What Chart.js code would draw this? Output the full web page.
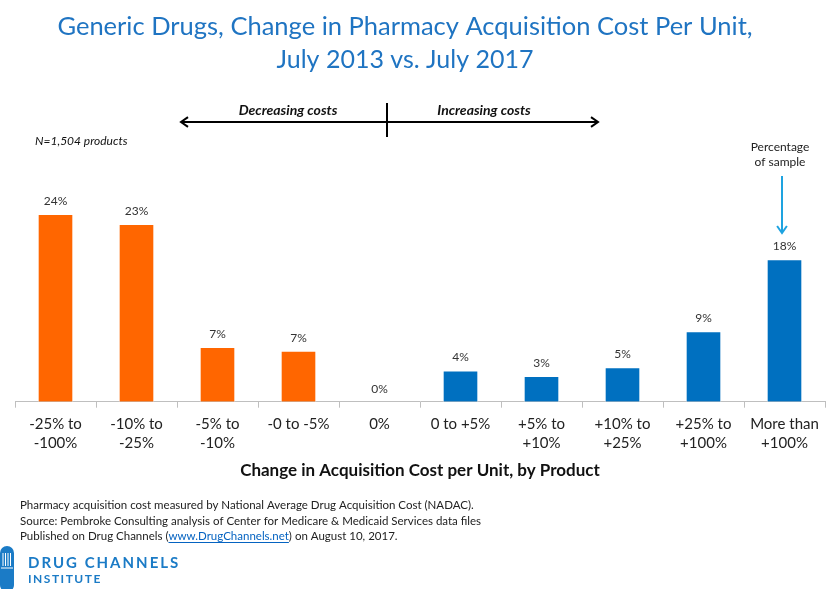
<!DOCTYPE html>
<html>
<head>
<meta charset="utf-8">
<script src="https://cdn.jsdelivr.net/npm/chart.js@4.4.1/dist/chart.umd.min.js"></script>
<style>
  html, body { margin: 0; background: #fff; }
  #wrap { width: 840px; height: 589px; }
</style>
</head>
<body>
<div id="wrap"><canvas id="chart"></canvas></div>
<script>
// --- data ---
const categories = [
  ["-25% to", "-100%"], ["-10% to", "-25%"], ["-5% to", "-10%"], ["-0 to -5%"], ["0%"],
  ["0 to +5%"], ["+5% to", "+10%"], ["+10% to", "+25%"], ["+25% to", "+100%"], ["More than", "+100%"]
];
const shares = [24.0, 22.7, 7.0, 6.5, 0, 4.0, 3.3, 4.4, 9.0, 18.2];
const shareLabels = ["24%", "23%", "7%", "7%", "0%", "4%", "3%", "5%", "9%", "18%"];
const decreasingCount = 5; // first five categories are cost decreases

const titleLines = ["Generic Drugs, Change in Pharmacy Acquisition Cost Per Unit,", "July 2013 vs. July 2017"];
const footerLines = [
  "Pharmacy acquisition cost measured by National Average Drug Acquisition Cost (NADAC).",
  "Source: Pembroke Consulting analysis of Center for Medicare & Medicaid Services data files"
];

const FONT = "Lato, 'Open Sans', sans-serif";
const ORANGE = "#ff6600";
const BLUE = "#0070c0";
const TITLE_BLUE = "#1f74c2";

function arrowHead(ctx, x, y, dx, dy, size) {
  // dx,dy: unit direction of the arrow tip
  const px = -dy, py = dx;
  ctx.beginPath();
  ctx.moveTo(x - dx * size + px * size * 0.7, y - dy * size + py * size * 0.7);
  ctx.lineTo(x, y);
  ctx.lineTo(x - dx * size - px * size * 0.7, y - dy * size - py * size * 0.7);
  ctx.stroke();
}

// labels above bars + page annotations
const decorations = {
  id: "decorations",
  afterDatasetsDraw(chart) {
    const ctx = chart.ctx;
    const meta = chart.getDatasetMeta(0);
    ctx.save();
    ctx.fillStyle = "#333";
    ctx.font = "12px " + FONT;
    ctx.textAlign = "center";
    ctx.textBaseline = "middle";
    meta.data.forEach((bar, i) => {
      ctx.fillText(shareLabels[i], bar.x, bar.y - 13);
    });
    ctx.restore();
  },
  afterDraw(chart) {
    const ctx = chart.ctx;
    ctx.save();

    // title
    ctx.fillStyle = TITLE_BLUE;
    ctx.font = "25.5px " + FONT;
    ctx.textAlign = "center";
    ctx.textBaseline = "middle";
    ctx.fillText(titleLines[0], 405, 27, 700);
    ctx.font = "25px " + FONT;
    ctx.fillText(titleLines[1], 405, 60);

    // decreasing / increasing arrow
    ctx.strokeStyle = "#000";
    ctx.lineWidth = 2;
    ctx.beginPath();
    ctx.moveTo(182, 122);
    ctx.lineTo(597, 122);
    ctx.moveTo(387, 103);
    ctx.lineTo(387, 137);
    ctx.stroke();
    arrowHead(ctx, 181, 122, -1, 0, 7);
    arrowHead(ctx, 598, 122, 1, 0, 7);

    ctx.fillStyle = "#111";
    ctx.font = "italic bold 14px " + FONT;
    ctx.fillText("Decreasing costs", 288, 110);
    ctx.fillText("Increasing costs", 484, 110);

    ctx.font = "italic 12px " + FONT;
    ctx.textAlign = "left";
    ctx.fillText("N=1,504 products", 35, 141);

    // percentage of sample note
    ctx.textAlign = "center";
    ctx.font = "12px " + FONT;
    ctx.fillStyle = "#222";
    ctx.fillText("Percentage", 780, 147);
    ctx.fillText("of sample", 780, 162);
    ctx.strokeStyle = "#1ea3e0";
    ctx.lineWidth = 2;
    ctx.beginPath();
    ctx.moveTo(782, 176);
    ctx.lineTo(782, 232);
    ctx.stroke();
    arrowHead(ctx, 782, 233, 0, 1, 7);

    // footer
    ctx.textAlign = "left";
    ctx.fillStyle = "#222";
    ctx.font = "11.5px " + FONT;
    ctx.fillText(footerLines[0], 20, 505);
    ctx.fillText(footerLines[1], 20, 521);
    let x = 20;
    const parts = [["Published on Drug Channels (", "#222"], ["www.DrugChannels.net", "#0563c1"], [") on August 10, 2017.", "#222"]];
    parts.forEach(([t, c]) => {
      ctx.fillStyle = c;
      ctx.fillText(t, x, 536);
      const w = ctx.measureText(t).width;
      if (c !== "#222") {
        ctx.fillRect(x, 542, w, 1);
      }
      x += w;
    });

    // logo
    ctx.fillStyle = "#1b7bc6";
    ctx.beginPath();
    ctx.roundRect(0, 546, 14, 46, 7);
    ctx.fill();
    ctx.strokeStyle = "#fff";
    ctx.lineWidth = 1;
    ctx.beginPath();
    for (let i = 0; i < 4; i++) {
      ctx.moveTo(3 + i * 2.5, 553);
      ctx.lineTo(3 + i * 2.5, 566);
    }
    ctx.moveTo(1, 568);
    ctx.lineTo(13, 568);
    ctx.stroke();
    ctx.fillStyle = "#1b7bc6";
    ctx.font = "bold 15px " + FONT;
    ctx.letterSpacing = "2px";
    ctx.fillText("DRUG CHANNELS", 28, 563);
    ctx.font = "bold 12px " + FONT;
    ctx.letterSpacing = "1.5px";
    ctx.fillText("INSTITUTE", 28, 579);
    ctx.restore();
  }
};

new Chart(document.getElementById("chart"), {
  type: "bar",
  data: {
    labels: categories,
    datasets: [{
      data: shares,
      backgroundColor: shares.map((v, i) => i < decreasingCount ? ORANGE : BLUE),
      borderColor: "#fff",
      borderWidth: 1,
      categoryPercentage: 1,
      barPercentage: 0.44
    }]
  },
  options: {
    responsive: true,
    maintainAspectRatio: false,
    animation: false,
    layout: { padding: { top: 167, left: 15, right: 15, bottom: 108 } },
    plugins: {
      legend: { display: false },
      tooltip: { enabled: false }
    },
    scales: {
      x: {
        grid: { display: true, drawOnChartArea: false, tickLength: 6, color: "#bfbfbf", offset: true },
        border: { display: true, color: "#bfbfbf" },
        ticks: { color: "#222", font: { family: FONT, size: 15, lineHeight: 1.33 }, padding: 6, maxRotation: 0, autoSkip: false },
        title: {
          display: true,
          text: "Change in Acquisition Cost per Unit, by Product",
          color: "#111",
          font: { family: FONT, size: 17, weight: "bold" },
          padding: { top: 1, bottom: 0 }
        }
      },
      y: { display: false, min: 0, max: 30 }
    }
  },
  plugins: [decorations]
});
</script>
</body>
</html>
